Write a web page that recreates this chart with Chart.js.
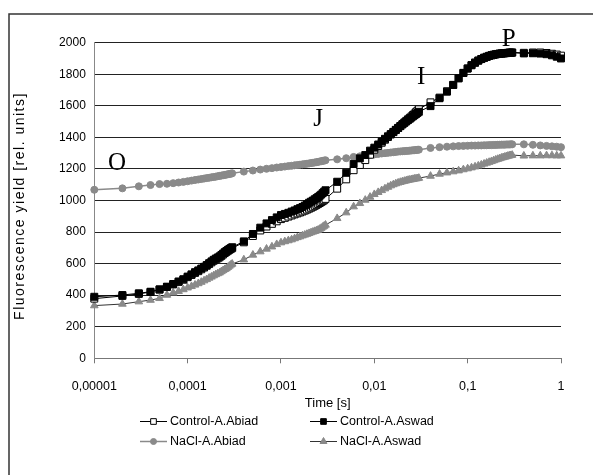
<!DOCTYPE html>
<html>
<head>
<meta charset="utf-8">
<script src="https://cdn.jsdelivr.net/npm/chart.js@4.4.1/dist/chart.umd.min.js"></script>
<style>
  html, body { margin: 0; padding: 0; background: #fff; }
  #wrap { position: relative; width: 593px; height: 475px; overflow: hidden; }
</style>
</head>
<body>
<div id="wrap"><canvas id="c" width="593" height="475"></canvas></div>
<script>
// sampling times in ms (10 us steps, then 0.1 ms, 1 ms, 10 ms, 100 ms)
var timesMs = [
  0.01, 0.02, 0.03, 0.04, 0.05, 0.06, 0.07, 0.08, 0.09, 0.10,
  0.11, 0.12, 0.13, 0.14, 0.15, 0.16, 0.17, 0.18, 0.19, 0.20,
  0.21, 0.22, 0.23, 0.24, 0.25, 0.26, 0.27, 0.28, 0.29, 0.30,
  0.4, 0.5, 0.6, 0.7, 0.8, 0.9, 1.0, 1.1, 1.2, 1.3, 1.4, 1.5, 1.6, 1.7,
  1.8, 1.9, 2.0, 2.1, 2.2, 2.3, 2.4, 2.5, 2.6, 2.7, 2.8, 2.9, 3.0,
  4, 5, 6, 7, 8, 9, 10, 11, 12, 13, 14, 15, 16, 17,
  18, 19, 20, 21, 22, 23, 24, 25, 26, 27, 28, 29, 30,
  40, 50, 60, 70, 80, 90, 100, 110, 120, 130, 140, 150, 160, 170,
  180, 190, 200, 210, 220, 230, 240, 250, 260, 270, 280, 290, 300,
  400, 500, 600, 700, 800, 900, 1000
];

var controlAbiad = [
  378, 395, 408, 420, 435, 452, 468, 484, 498, 514, 528, 541, 552, 564, 575,
  586, 597, 608, 618, 626, 633, 640, 649, 658, 667, 674, 681, 687, 693, 698,
  735, 775, 810, 835, 852, 868, 882, 890, 898, 905, 912, 918, 924, 930,
  936, 942, 948, 954, 960, 966, 972, 978, 984, 990, 996, 1002, 1010,
  1075, 1134, 1192, 1225, 1256, 1290, 1322, 1345, 1366, 1385, 1402, 1418, 1433, 1447,
  1460, 1472, 1484, 1495, 1505, 1515, 1524, 1533, 1542, 1551, 1560, 1569, 1578,
  1622, 1652, 1692, 1733, 1775, 1809, 1837, 1858, 1874, 1887, 1897, 1905, 1911, 1917,
  1921, 1924, 1927, 1929, 1931, 1932, 1933, 1934, 1935, 1936, 1937, 1937, 1938,
  1936, 1938, 1938, 1935, 1930, 1925, 1918
];

var controlAswad = [
  390, 401, 412, 422, 437, 454, 471, 487, 501, 518, 532, 546, 557, 569, 580,
  591, 603, 614, 624, 632, 639, 646, 655, 664, 673, 680, 687, 693, 699, 704,
  741, 788, 828, 855, 876, 893, 908, 915, 922, 930, 937, 945, 952, 959,
  968, 977, 986, 993, 1000, 1008, 1015, 1022, 1030, 1038, 1047, 1056, 1065,
  1119, 1176, 1231, 1267, 1288, 1316, 1335, 1355, 1374, 1391, 1407, 1421, 1435, 1448,
  1460, 1471, 1482, 1492, 1501, 1510, 1518, 1526, 1534, 1541, 1548, 1555, 1562,
  1598, 1648, 1690, 1732, 1774, 1808, 1836, 1857, 1873, 1886, 1896, 1904, 1910, 1916,
  1920, 1923, 1926, 1928, 1930, 1931, 1932, 1933, 1934, 1935, 1936, 1936, 1937,
  1932, 1933, 1931, 1927, 1920, 1911, 1900
];

var naclAbiad = [
  1068, 1077, 1090, 1098, 1104, 1106, 1110, 1114, 1118, 1122, 1126, 1130, 1133, 1136, 1139,
  1142, 1144, 1147, 1149, 1151, 1154, 1156, 1158, 1160, 1162, 1164, 1166, 1168, 1170, 1172,
  1183, 1190, 1196, 1201, 1205, 1209, 1212, 1215, 1218, 1220, 1223, 1225, 1227, 1229,
  1231, 1233, 1235, 1237, 1239, 1241, 1243, 1245, 1247, 1249, 1251, 1253, 1255,
  1261, 1268, 1276, 1280, 1284, 1288, 1292, 1295, 1298, 1300, 1302, 1304, 1306, 1308,
  1310, 1311, 1312, 1313, 1314, 1315, 1316, 1317, 1318, 1319, 1320, 1321, 1322,
  1333, 1338, 1341, 1343, 1345, 1346, 1347, 1348, 1348, 1349, 1349, 1350, 1350, 1351,
  1351, 1352, 1352, 1353, 1353, 1354, 1354, 1354, 1355, 1355, 1355, 1356, 1356,
  1356, 1353, 1349, 1346, 1343, 1341, 1338
];

var naclAswad = [
  334, 344, 359, 369, 380, 401, 415, 425, 436, 447, 456, 465, 474, 483, 492,
  500, 509, 516, 524, 531, 537, 542, 550, 557, 564, 569, 577, 585, 592, 598,
  625, 655, 676, 693, 707, 722, 733, 740, 746, 752, 759, 766, 771, 777,
  782, 787, 792, 797, 801, 805, 809, 813, 819, 825, 832, 838, 845,
  887, 923, 961, 982, 1003, 1022, 1039, 1052, 1064, 1075, 1085, 1094, 1101, 1107,
  1112, 1116, 1120, 1123, 1126, 1129, 1131, 1133, 1135, 1137, 1139, 1140, 1142,
  1155, 1168, 1176, 1183, 1189, 1196, 1202, 1208, 1214, 1220, 1226, 1232, 1238, 1243,
  1248, 1253, 1258, 1262, 1266, 1270, 1273, 1276, 1279, 1282, 1284, 1286, 1288,
  1283, 1284, 1284, 1285, 1285, 1284, 1284
];

var seriesNames = ['Control-A.Abiad', 'Control-A.Aswad', 'NaCl-A.Abiad', 'NaCl-A.Aswad'];

var xTickValues = [0.00001, 0.0001, 0.001, 0.01, 0.1, 1];
var xTickLabels = ['0,00001', '0,0001', '0,001', '0,01', '0,1', '1'];

// OJIP step letters, anchored in data units (time in s, yield)
var stepLetters = ['O', 'J', 'I', 'P'];
var stepTimes = [0.0000175, 0.0025, 0.0317, 0.275];
var stepYields = [1250, 1526, 1795, 2036];

var GRAY = '#8a8a8a';
var FONT = '"Liberation Sans", Arial, sans-serif';

function toPoints(values) {
  return values.map(function (v, i) { return { x: timesMs[i] / 1000, y: v }; });
}

// order: lower number is painted on top (black squares over everything)
var styles = [
  { line: '#000', fill: '#fff', edge: '#000', shape: 'rect', r: 4.9, w: 1, order: 1 },
  { line: '#000', fill: '#000', edge: '#000', shape: 'rect', r: 4.9, w: 1, order: 0 },
  { line: GRAY, fill: GRAY, edge: GRAY, shape: 'circle', r: 3.5, w: 1.5, order: 2 },
  { line: '#333', fill: GRAY, edge: GRAY, shape: 'triangle', r: 4.4, w: 1, order: 3 }
];
var seriesValues = [controlAbiad, controlAswad, naclAbiad, naclAswad];

var datasets = seriesValues.map(function (vals, i) {
  var s = styles[i];
  return {
    label: seriesNames[i],
    data: toPoints(vals),
    order: s.order,
    borderColor: s.line,
    borderWidth: s.w,
    backgroundColor: s.fill,
    pointStyle: s.shape,
    pointRadius: s.r,
    pointBackgroundColor: s.fill,
    pointBorderColor: s.edge,
    pointBorderWidth: 1,
    tension: 0,
    clip: false
  };
});

function drawMarker(ctx, s, x, y, r) {
  ctx.fillStyle = s.fill;
  ctx.strokeStyle = s.edge;
  ctx.lineWidth = 1;
  if (Chart.helpers && Chart.helpers.drawPoint) {
    Chart.helpers.drawPoint(ctx, { pointStyle: s.shape, radius: r, rotation: 0, borderWidth: 1 }, x, y);
  }
}

var framePlugin = {
  id: 'frame',
  beforeDraw: function (chart) {
    var ctx = chart.ctx;
    ctx.save();
    ctx.fillStyle = '#fff';
    ctx.fillRect(0, 0, chart.width, chart.height);
    ctx.strokeStyle = '#333';
    ctx.lineWidth = 1.5;
    ctx.strokeRect(9, 14, 800, 800);
    ctx.restore();
  }
};

var extrasPlugin = {
  id: 'extras',
  afterDatasetsDraw: function (chart) {
    var ctx = chart.ctx, xs = chart.scales.x, ys = chart.scales.y;
    ctx.save();
    ctx.fillStyle = '#000';
    ctx.font = '25px "Liberation Serif", "Times New Roman", serif';
    ctx.textAlign = 'center';
    ctx.textBaseline = 'alphabetic';
    stepLetters.forEach(function (t, i) {
      ctx.fillText(t, xs.getPixelForValue(stepTimes[i]), ys.getPixelForValue(stepYields[i]) + 8.5);
    });
    ctx.restore();
  },
  afterDraw: function (chart) {
    var ctx = chart.ctx;
    // y axis title, letter-spaced like the original
    ctx.save();
    ctx.translate(20, 206);
    ctx.rotate(-Math.PI / 2);
    ctx.font = '14px ' + FONT;
    ctx.letterSpacing = '1.5px';
    ctx.fillStyle = '#000';
    ctx.textAlign = 'center';
    ctx.textBaseline = 'middle';
    ctx.fillText('Fluorescence yield [rel. units]', 0, 0);
    ctx.restore();

    // two-column legend
    var cols = [140, 310], rows = [421.5, 441.5];
    ctx.save();
    ctx.font = '12.5px ' + FONT;
    ctx.textBaseline = 'middle';
    ctx.textAlign = 'left';
    seriesNames.forEach(function (name, i) {
      var s = styles[i];
      var x = cols[i % 2], y = rows[Math.floor(i / 2)];
      ctx.strokeStyle = s.line;
      ctx.lineWidth = s.w;
      ctx.beginPath();
      ctx.moveTo(x, y);
      ctx.lineTo(x + 27, y);
      ctx.stroke();
      drawMarker(ctx, s, x + 13.5, y, s.shape === 'circle' ? 3 : 4);
      ctx.fillStyle = '#000';
      ctx.fillText(name, x + 30, y);
    });
    ctx.restore();
  }
};

new Chart(document.getElementById('c'), {
  type: 'line',
  data: { datasets: datasets },
  plugins: [framePlugin, extrasPlugin],
  options: {
    responsive: false,
    animation: false,
    devicePixelRatio: 1,
    layout: { padding: { top: 42.7, right: 32, bottom: 63.8, left: 0 } },
    plugins: { legend: { display: false }, tooltip: { enabled: false } },
    scales: {
      x: {
        type: 'logarithmic',
        min: 0.00001,
        max: 1,
        afterBuildTicks: function (s) {
          s.ticks = xTickValues.map(function (v) { return { value: v }; });
        },
        afterFit: function (s) { s.height = 52.9; },
        ticks: {
          autoSkip: false,
          maxRotation: 0,
          padding: 15.5,
          color: '#000',
          font: { family: FONT, size: 12.5 },
          callback: function (v, i) { return xTickLabels[i]; }
        },
        grid: { drawOnChartArea: false, drawTicks: true, tickLength: 5, color: '#777' },
        border: { color: '#777' },
        title: { display: true, text: 'Time [s]', color: '#000', padding: 0, font: { family: FONT, size: 13 } }
      },
      y: {
        min: 0,
        max: 2000,
        afterFit: function (s) { s.width = 94.3; },
        ticks: {
          stepSize: 200,
          padding: 8.5,
          color: '#000',
          font: { family: FONT, size: 12 },
          callback: function (v) { return String(v); }
        },
        grid: { color: '#222', drawTicks: false },
        border: { color: '#888' }
      }
    }
  }
});
</script>
</body>
</html>
